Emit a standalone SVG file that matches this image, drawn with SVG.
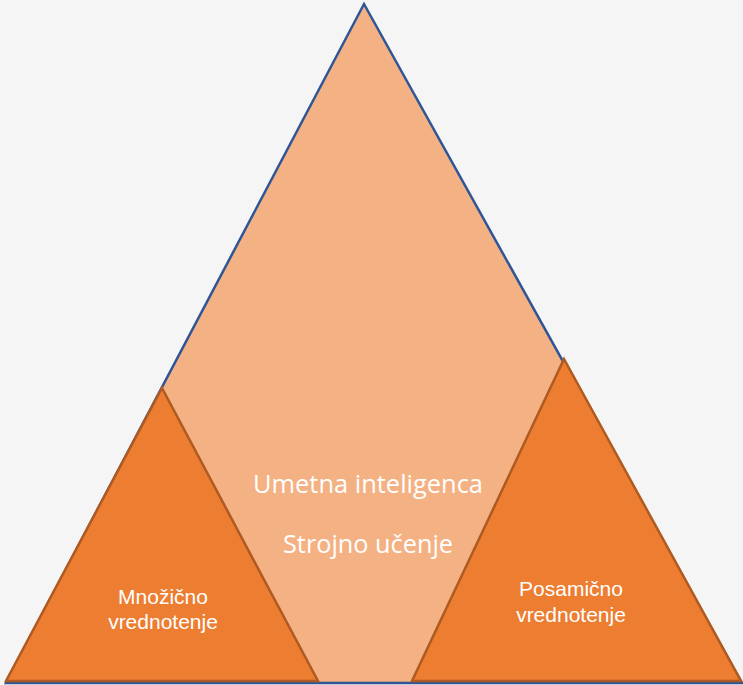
<svg xmlns="http://www.w3.org/2000/svg" width="743" height="685" viewBox="0 0 743 685">
<style>
.big{fill:#F4B183;stroke:#2F5597;stroke-width:2.5;stroke-linejoin:miter}
.small{fill:#ED7D31;stroke:#AE5A21;stroke-width:2.5;stroke-linejoin:miter}
.main{font-family:"Open Sans","Noto Sans",sans-serif;fill:#FFFFFF;text-anchor:middle;font-size:25px}
.lbl{font-family:"Liberation Sans",Arial,sans-serif;fill:#FFFFFF;text-anchor:middle;font-size:21px}
</style>
<rect x="0" y="0" width="743" height="685" fill="#F5F5F5"/>
<g id="umetna-inteligenca">
<polygon class="big" points="364,4 742,683 6,683"/>
<text class="main" x="368" y="493" textLength="230" lengthAdjust="spacingAndGlyphs">Umetna inteligenca</text>
<text class="main" x="368" y="553" textLength="170" lengthAdjust="spacingAndGlyphs">Strojno učenje</text>
</g>
<g id="mnozicno-vrednotenje">
<polygon class="small" points="162,388 318,681 6,681"/>
<text class="lbl" x="163" y="604">Množično</text>
<text class="lbl" x="163" y="629">vrednotenje</text>
</g>
<g id="posamicno-vrednotenje">
<polygon class="small" points="564,359 741,681 412,681"/>
<text class="lbl" x="571" y="596">Posamično</text>
<text class="lbl" x="571" y="622">vrednotenje</text>
</g>
<g id="connectors"></g>
</svg>
